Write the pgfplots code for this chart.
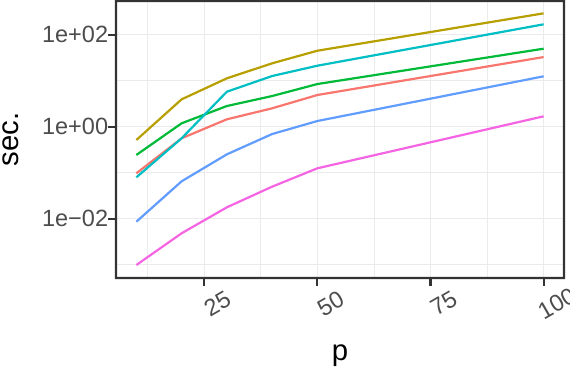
\documentclass[border=0pt]{standalone}
\usepackage{pgfplots}
\pgfplotsset{compat=1.18}
\usepackage{fontspec}
\setmainfont{Liberation Sans}
\definecolor{gGrid}{HTML}{EBEBEB}
\definecolor{gText}{HTML}{4D4D4D}
\definecolor{cR}{HTML}{F8766D}
\definecolor{cY}{HTML}{B79F00}
\definecolor{cG}{HTML}{00BA38}
\definecolor{cC}{HTML}{00BFC4}
\definecolor{cB}{HTML}{619CFF}
\definecolor{cP}{HTML}{F564E3}
\begin{document}
\begin{tikzpicture}
\begin{axis}[
  at={(0,0)}, anchor=south west,
  scale only axis, width=448bp, height=277bp,
  xmin=5.5, xmax=104.5,
  ymode=log, ymin=5.14e-4, ymax=541,
  xtick={25,50,75,100}, xticklabels={25,50,75,100},
  minor xtick={12.5,37.5,62.5,87.5},
  ytick={0.01,1,100}, yticklabels={1e−02,1e+00,1e+02},
  minor ytick={0.001,0.1,10},
  grid=both,
  major grid style={draw=gGrid, line width=1.4bp},
  minor grid style={draw=gGrid, line width=0.8bp},
  axis line style={draw=none},
  tick pos=left, tick align=outside,
  major tick length=7.7bp, minor tick length=0pt,
  every tick/.style={draw=none},
  ticklabel style={font=\fontsize{23.5bp}{28bp}\selectfont, text=gText, inner sep=0pt},
  yticklabel style={anchor=east},
  xticklabel style={rotate=30, anchor=center, yshift=-22bp, xshift=2.5bp},
  every axis plot/.append style={line width=2.2bp, no markers},
  clip=false,
]
\addplot[cR] coordinates {(10,0.0970) (20,0.560) (30,1.449) (40,2.512) (50,4.89) (100,32.7)};
\addplot[cY] coordinates {(10,0.514) (20,3.94) (30,11.27) (40,23.9) (50,44.9) (100,291.7)};
\addplot[cG] coordinates {(10,0.243) (20,1.186) (30,2.818) (40,4.645) (50,8.47) (100,49.7)};
\addplot[cC] coordinates {(10,0.0794) (20,0.560) (30,5.77) (40,12.65) (50,21.2) (100,168.3)};
\addplot[cB] coordinates {(10,0.00861) (20,0.0650) (30,0.251) (40,0.693) (50,1.33) (100,12.47)};
\addplot[cP] coordinates {(10,0.000984) (20,0.00482) (30,0.0177) (40,0.0497) (50,0.1247) (100,1.683)};
\fill[black!80] ([xshift=-1.1bp]axis cs:25,5.14e-4) rectangle ([xshift=1.1bp,yshift=-7.7bp]axis cs:25,5.14e-4);
\fill[black!80] ([xshift=-1.1bp]axis cs:50,5.14e-4) rectangle ([xshift=1.1bp,yshift=-7.7bp]axis cs:50,5.14e-4);
\fill[black!80] ([xshift=-1.1bp]axis cs:75,5.14e-4) rectangle ([xshift=1.1bp,yshift=-7.7bp]axis cs:75,5.14e-4);
\fill[black!80] ([xshift=-1.1bp]axis cs:100,5.14e-4) rectangle ([xshift=1.1bp,yshift=-7.7bp]axis cs:100,5.14e-4);
\fill[black!80] ([yshift=-1.1bp]axis cs:5.5,0.01) rectangle ([yshift=1.1bp,xshift=-7.7bp]axis cs:5.5,0.01);
\fill[black!80] ([yshift=-1.1bp]axis cs:5.5,1) rectangle ([yshift=1.1bp,xshift=-7.7bp]axis cs:5.5,1);
\fill[black!80] ([yshift=-1.1bp]axis cs:5.5,100) rectangle ([yshift=1.1bp,xshift=-7.7bp]axis cs:5.5,100);
\end{axis}
\fill[black!80, even odd rule] (-1.1bp,-1.1bp) rectangle (449.1bp,278.1bp) (1.1bp,1.1bp) rectangle (446.9bp,275.9bp);
\node[rotate=90, anchor=base, font=\fontsize{29.3bp}{34bp}\selectfont, inner sep=0pt] at (-97bp,138.5bp) {sec.};
\node[anchor=base, font=\fontsize{29.3bp}{34bp}\selectfont, inner sep=0pt] at (224bp,-82bp) {p};
\pgfresetboundingbox
\useasboundingbox (-116bp,-94bp) rectangle (454bp,278bp);
\end{tikzpicture}
\end{document}
